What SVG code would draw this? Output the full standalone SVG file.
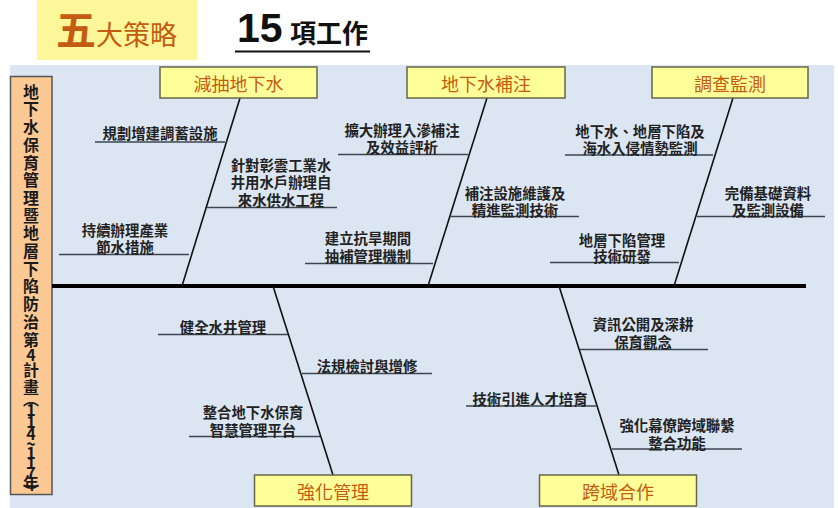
<svg xmlns="http://www.w3.org/2000/svg" width="838" height="508" viewBox="0 0 838 508">
<style>
.cjk{font-family:"Noto Sans CJK TC","Noto Sans CJK SC",sans-serif}
.cat{fill:#ffff99;stroke:#66664a;stroke-width:1.5}
.catt{font-family:"Noto Sans CJK TC",sans-serif;font-size:18px;fill:#c55a11;text-anchor:middle;dominant-baseline:central}
.lbl{font-family:"Noto Sans CJK TC",sans-serif;font-size:14.4px;font-weight:bold;fill:#222;text-anchor:middle;dominant-baseline:central}
.vt{font-family:"Noto Sans CJK TC",sans-serif;font-size:16px;font-weight:bold;fill:#1a1a1a;text-anchor:middle;dominant-baseline:central}
.bone{stroke:#111;stroke-width:1.6;fill:none}
.sub{stroke:#3c4650;stroke-width:1.5;fill:none}
</style>
<rect x="0" y="0" width="838" height="508" fill="#ffffff"/>
<g id="title">
<rect x="37" y="0" width="160" height="60" fill="#fdf79a"/>
<text x="56" y="45" class="cjk" font-size="40" font-weight="bold" fill="#c55a11">五<tspan font-size="27" font-weight="normal">大策略</tspan></text>
<text x="237" y="42" font-family="Liberation Sans,sans-serif" font-weight="bold" font-size="41" fill="#111">15</text>
<text x="290" y="43" class="cjk" font-size="26" font-weight="bold" fill="#111">項工作</text>
<line x1="235" y1="51.5" x2="370" y2="51.5" stroke="#111" stroke-width="2"/>
</g>
<rect x="10" y="65" width="824" height="443" fill="#dce6f2"/>
<g id="root">
<rect x="10.5" y="76.5" width="41.5" height="418" fill="#fcc995" stroke="#555" stroke-width="1.5"/>
<text class="vt" x="31 31 31 31 31 31 31 31 31 31 31 31 31 31 31 31 31 31 31 31 31 31 31 31 31 31 31 31" y="90.7 108.4 126.1 143.8 161.5 179.2 196.9 214.6 232.3 250 267.7 285.4 303.1 320.8 338.5 353.5 368.5 385.5 397.5 409 421 433 443 452 462 472 481.5 490.5">地下水保育管理暨地層下陷防治第4計畫︵114~117年︶</text>
</g>
<g id="connectors">
<line x1="52" y1="286" x2="806" y2="286" stroke="#000" stroke-width="4"/>
<line class="bone" x1="240" y1="98" x2="182" y2="286"/>
<line class="bone" x1="487" y1="98" x2="428" y2="286"/>
<line class="bone" x1="733" y1="98" x2="674" y2="286"/>
<line class="bone" x1="273" y1="286" x2="333" y2="475"/>
<line class="bone" x1="559" y1="286" x2="619" y2="475"/>
<line class="sub" x1="95" y1="142" x2="225" y2="142"/>
<line class="sub" x1="59" y1="254.5" x2="189" y2="254.5"/>
<line class="sub" x1="207" y1="207.5" x2="337" y2="207.5"/>
<line class="sub" x1="338" y1="154.5" x2="468" y2="154.5"/>
<line class="sub" x1="305" y1="263.5" x2="433" y2="263.5"/>
<line class="sub" x1="450" y1="216.5" x2="579" y2="216.5"/>
<line class="sub" x1="565" y1="155" x2="713" y2="155"/>
<line class="sub" x1="550" y1="262.5" x2="679" y2="262.5"/>
<line class="sub" x1="697" y1="216.5" x2="825" y2="216.5"/>
<line class="sub" x1="158" y1="334.5" x2="288" y2="334.5"/>
<line class="sub" x1="302" y1="373.5" x2="432" y2="373.5"/>
<line class="sub" x1="189" y1="436.5" x2="320" y2="436.5"/>
<line class="sub" x1="580" y1="349.5" x2="708" y2="349.5"/>
<line class="sub" x1="466" y1="406" x2="596" y2="406"/>
<line class="sub" x1="612" y1="449" x2="742" y2="449"/>
</g>
<g id="cat-reduce"><rect class="cat" x="160" y="67" width="157" height="31"/><text class="catt" x="238.5" y="83">減抽地下水</text></g>
<g id="cat-recharge"><rect class="cat" x="407" y="67" width="158" height="31"/><text class="catt" x="486" y="83">地下水補注</text></g>
<g id="cat-monitor"><rect class="cat" x="652" y="67" width="156" height="31"/><text class="catt" x="730" y="83">調查監測</text></g>
<g id="cat-manage"><rect class="cat" x="254.5" y="475" width="157" height="31"/><text class="catt" x="333" y="491">強化管理</text></g>
<g id="cat-cross"><rect class="cat" x="539.5" y="475" width="157" height="31"/><text class="catt" x="618" y="491">跨域合作</text></g>
<g id="item-1"><text class="lbl" x="160" y="132">規劃增建調蓄設施</text></g>
<g id="item-2"><text class="lbl" y="228.5"><tspan x="125">持續辦理產業</tspan><tspan x="125" dy="17.5">節水措施</tspan></text></g>
<g id="item-3"><text class="lbl" y="163.5"><tspan x="281">針對彰雲工業水</tspan><tspan x="281" dy="17.5">井用水戶辦理自</tspan><tspan x="281" dy="17.5">來水供水工程</tspan></text></g>
<g id="item-4"><text class="lbl" y="128.5"><tspan x="402">擴大辦理入滲補注</tspan><tspan x="402" dy="17">及效益評析</tspan></text></g>
<g id="item-5"><text class="lbl" y="237"><tspan x="368">建立抗旱期間</tspan><tspan x="368" dy="18">抽補管理機制</tspan></text></g>
<g id="item-6"><text class="lbl" y="191.5"><tspan x="515">補注設施維護及</tspan><tspan x="515" dy="17">精進監測技術</tspan></text></g>
<g id="item-7"><text class="lbl" y="130"><tspan x="640">地下水、地層下陷及</tspan><tspan x="640" dy="17">海水入侵情勢監測</tspan></text></g>
<g id="item-8"><text class="lbl" y="238.5"><tspan x="622">地層下陷管理</tspan><tspan x="622" dy="16.5">技術研發</tspan></text></g>
<g id="item-9"><text class="lbl" y="191.5"><tspan x="768">完備基礎資料</tspan><tspan x="768" dy="17">及監測設備</tspan></text></g>
<g id="item-10"><text class="lbl" x="223" y="326">健全水井管理</text></g>
<g id="item-11"><text class="lbl" x="367" y="365">法規檢討與增修</text></g>
<g id="item-12"><text class="lbl" y="410.5"><tspan x="253">整合地下水保育</tspan><tspan x="253" dy="18">智慧管理平台</tspan></text></g>
<g id="item-13"><text class="lbl" y="323"><tspan x="643">資訊公開及深耕</tspan><tspan x="643" dy="18">保育觀念</tspan></text></g>
<g id="item-14"><text class="lbl" x="530" y="398.5">技術引進人才培育</text></g>
<g id="item-15"><text class="lbl" y="424"><tspan x="677">強化幕僚跨域聯繫</tspan><tspan x="677" dy="18">整合功能</tspan></text></g>
</svg>
